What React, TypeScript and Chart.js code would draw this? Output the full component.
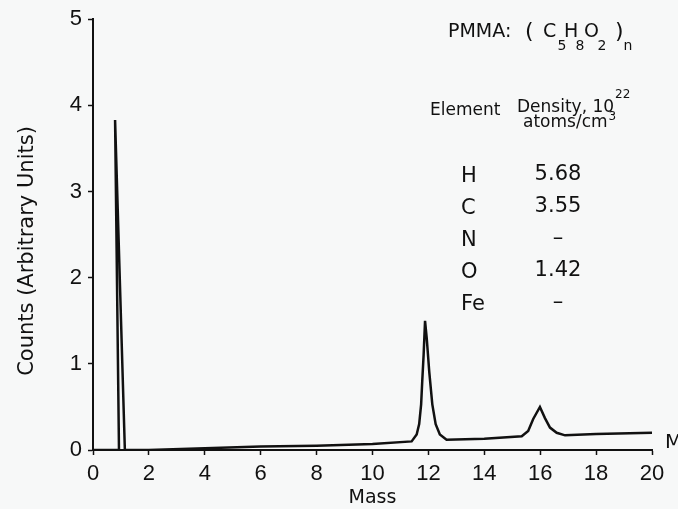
import React, { useEffect, useRef } from 'react';
import { Chart, registerables } from 'chart.js';

Chart.register(...registerables);

// Mass (x) and counts (y)
const massValues = [0, 0.93, 0.79, 1.14, 2, 4, 6, 8, 10, 11.4, 11.58, 11.67, 11.74, 11.78, 11.83, 11.88, 11.94, 12.03, 12.14, 12.26, 12.41, 12.65, 14, 15.34, 15.57, 15.75, 15.99, 16.17, 16.35, 16.59, 16.89, 18, 20];
const countValues = [0, 0, 3.83, 0, 0, 0.02, 0.04, 0.05, 0.07, 0.1, 0.18, 0.3, 0.53, 0.8, 1.11, 1.5, 1.3, 0.91, 0.53, 0.3, 0.18, 0.12, 0.13, 0.16, 0.22, 0.36, 0.5, 0.37, 0.26, 0.2, 0.17, 0.185, 0.2];

const xTickValues = [0, 2, 4, 6, 8, 10, 12, 14, 16, 18, 20];
const yTickValues = [0, 1, 2, 3, 4, 5];

const xAxisTitle = 'Mass';
const yAxisTitle = 'Counts (Arbitrary Units)';
const polymerName = 'PMMA:';
const formulaSymbols = ['C', 'H', 'O'];
const formulaSubscripts = ['5', '8', '2'];
const elementNames = ['H', 'C', 'N', 'O', 'Fe'];
const densityValues = ['5.68', '3.55', '\u2013', '1.42', '\u2013'];

const TITLE_FONT = '"DejaVu Sans"';
const TICK_FONT = '"Liberation Sans"';

const annotationPlugin = {
  id: 'annotations',
  beforeDraw(chart: any) {
    const ctx = chart.ctx;
    ctx.save();
    ctx.fillStyle = '#f7f8f8';
    ctx.fillRect(0, 0, chart.width, chart.height);
    ctx.restore();
  },
  afterDraw(chart: any) {
    const ctx = chart.ctx;
    ctx.save();
    ctx.fillStyle = '#111';
    ctx.textBaseline = 'alphabetic';

    // y axis title
    ctx.save();
    ctx.translate(28, 251);
    ctx.rotate(-Math.PI / 2);
    ctx.textAlign = 'center';
    ctx.textBaseline = 'middle';
    ctx.font = `21px ${TITLE_FONT}`;
    ctx.fillText(yAxisTitle, 0, 0);
    ctx.restore();

    // cut-off label at right edge
    ctx.textAlign = 'left';
    ctx.font = `20px ${TITLE_FONT}`;
    ctx.fillText(xAxisTitle, 665, 448);

    // formula
    ctx.font = `19px ${TITLE_FONT}`;
    ctx.fillText(polymerName, 448, 37);
    ctx.font = `22px ${TITLE_FONT}`;
    ctx.fillText('(', 525, 38);
    ctx.fillText(')', 615, 38);
    ctx.font = `19px ${TITLE_FONT}`;
    const symX = [543, 564, 584];
    formulaSymbols.forEach((s, i) => ctx.fillText(s, symX[i], 37));
    ctx.textAlign = 'center';
    ctx.font = `14px ${TITLE_FONT}`;
    const subX = [562, 580, 602];
    formulaSubscripts.forEach((s, i) => ctx.fillText(s, subX[i], 50));
    ctx.fillText('n', 628, 50);

    // table header
    ctx.textAlign = 'left';
    ctx.font = `17px ${TITLE_FONT}`;
    ctx.fillText('Element', 430, 115);
    const dens = 'Density, 10';
    ctx.fillText(dens, 517, 112);
    const dw = ctx.measureText(dens).width;
    const atoms = 'atoms/cm';
    ctx.fillText(atoms, 523, 127);
    const aw = ctx.measureText(atoms).width;
    ctx.font = `12px ${TITLE_FONT}`;
    ctx.fillText('22', 517 + dw + 1, 98);
    ctx.fillText('3', 523 + aw + 1, 120);

    // table rows
    ctx.font = `21px ${TITLE_FONT}`;
    elementNames.forEach((e, i) => {
      ctx.textAlign = 'left';
      ctx.fillText(e, 461, 182 + i * 32);
      ctx.textAlign = 'center';
      ctx.fillText(densityValues[i], 558, 180 + i * 32);
    });
    ctx.restore();
  },
};

export default function App() {
  const canvasRef = useRef<HTMLCanvasElement | null>(null);

  useEffect(() => {
    if (!canvasRef.current) return;
    const points = massValues.map((m, i) => ({ x: m, y: countValues[i] }));
    const chart = new Chart(canvasRef.current, {
      type: 'scatter',
      data: {
        datasets: [
          {
            data: points,
            showLine: true,
            borderColor: '#111',
            borderWidth: 2.5,
            pointRadius: 0,
            tension: 0,
            fill: false,
          },
        ],
      },
      plugins: [annotationPlugin],
      options: {
        animation: false,
        responsive: true,
        maintainAspectRatio: false,
        layout: { padding: { left: 0, right: 26, top: 19, bottom: 0 } },
        plugins: {
          legend: { display: false },
          tooltip: { enabled: false },
        },
        scales: {
          x: {
            type: 'linear',
            min: 0,
            max: 20,
            afterBuildTicks: (scale: any) => {
              scale.ticks = xTickValues.map((v) => ({ value: v }));
            },
            afterFit: (scale: any) => {
              scale.height = 59;
            },
            border: { display: true, color: '#111', width: 2 },
            grid: { display: true, drawOnChartArea: false, drawTicks: true, tickLength: 5, color: '#111', tickWidth: 1.5 },
            ticks: {
              color: '#111',
              font: { family: TICK_FONT, size: 22 },
              padding: 6,
              maxRotation: 0,
              autoSkip: false,
            },
            title: {
              display: true,
              text: xAxisTitle,
              color: '#111',
              font: { family: TITLE_FONT, size: 19 },
              padding: { top: 0, bottom: 0 },
            },
          },
          y: {
            type: 'linear',
            min: 0,
            max: 5,
            afterBuildTicks: (scale: any) => {
              scale.ticks = yTickValues.map((v) => ({ value: v }));
            },
            afterFit: (scale: any) => {
              scale.width = 93;
            },
            border: { display: true, color: '#111', width: 2 },
            grid: { display: true, drawOnChartArea: false, drawTicks: true, tickLength: 5, color: '#111', tickWidth: 1.5 },
            ticks: {
              color: '#111',
              font: { family: TICK_FONT, size: 22 },
              padding: 6,
              autoSkip: false,
            },
          },
        },
      },
    });
    return () => chart.destroy();
  }, []);

  return (
    <div style={{ position: 'fixed', left: 0, top: 0, width: 678, height: 509, background: '#f7f8f8' }}>
      <canvas ref={canvasRef} />
    </div>
  );
}
